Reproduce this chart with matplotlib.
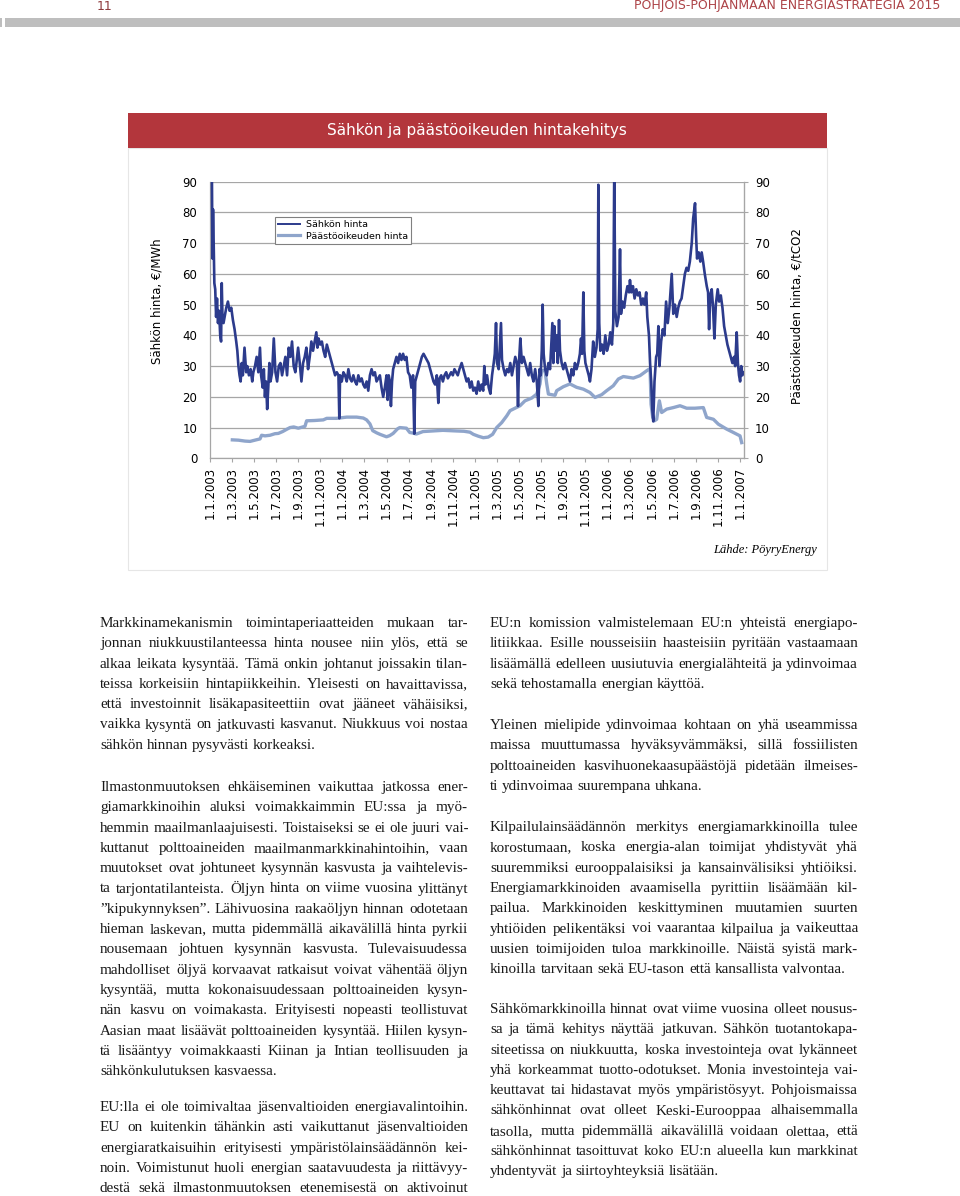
import matplotlib
matplotlib.use("Agg")
import matplotlib.pyplot as plt
from matplotlib.lines import Line2D
from matplotlib.patches import Rectangle

W, H = 960, 1196

# --- chart data (months counted from 1.1.2003) ---
el_month = [
    0.2, 0.25, 0.3, 0.36, 0.42, 0.5, 0.58, 0.66, 0.75, 0.85, 0.95, 1.03, 1.09, 1.15, 1.25,
    1.35, 1.5, 1.65, 1.8, 1.95, 2.1, 2.25, 2.4, 2.5, 2.6, 2.7, 2.8, 2.9, 3.0, 3.15,
    3.3, 3.4, 3.55, 3.7, 3.85, 3.95, 4.1, 4.25, 4.4, 4.55, 4.65, 4.8, 4.9, 5.0, 5.1,
    5.2, 5.3, 5.4, 5.5, 5.65, 5.8, 5.95, 6.1, 6.25, 6.4, 6.55, 6.7, 6.85, 7.0, 7.15,
    7.3, 7.45, 7.6, 7.75, 7.85, 8.0, 8.15, 8.3, 8.45, 8.6, 8.75, 8.9, 9.05, 9.2, 9.35,
    9.5, 9.65, 9.75, 9.85, 10.0, 10.15, 10.3, 10.45, 10.6, 10.75, 10.9, 11.05, 11.2, 11.35, 11.5,
    11.65, 11.73, 11.8, 11.95, 12.1, 12.25, 12.4, 12.55, 12.7, 12.85, 13.0, 13.15, 13.3, 13.45, 13.6,
    13.75, 13.9, 14.05, 14.2, 14.35, 14.5, 14.65, 14.8, 14.95, 15.1, 15.25, 15.4, 15.55, 15.7, 15.85,
    16.0, 16.1, 16.2, 16.3, 16.4, 16.5, 16.6, 16.75, 16.9, 17.05, 17.2, 17.35, 17.5, 17.65, 17.8,
    17.95, 18.1, 18.25, 18.4, 18.51, 18.6, 18.75, 18.9, 19.05, 19.2, 19.35, 19.5, 19.65, 19.8, 19.95,
    20.1, 20.25, 20.4, 20.55, 20.69, 20.8, 20.95, 21.1, 21.25, 21.4, 21.55, 21.7, 21.85, 22.0, 22.15,
    22.3, 22.45, 22.6, 22.8, 22.95, 23.1, 23.25, 23.4, 23.55, 23.7, 23.85, 24.0, 24.15, 24.3, 24.45,
    24.6, 24.75, 24.85, 24.95, 25.1, 25.25, 25.4, 25.55, 25.7, 25.8, 25.91, 26.0, 26.15, 26.36, 26.45,
    26.6, 26.75, 26.9, 27.05, 27.2, 27.35, 27.5, 27.65, 27.8, 27.9, 28.0, 28.11, 28.25, 28.4, 28.55,
    28.7, 28.85, 29.0, 29.15, 29.3, 29.45, 29.6, 29.74, 29.85, 29.95, 30.05, 30.13, 30.22, 30.35, 30.5,
    30.65, 30.8, 30.9, 31.01, 31.1, 31.19, 31.3, 31.4, 31.5, 31.61, 31.7, 31.85, 32.0, 32.15, 32.3,
    32.45, 32.6, 32.75, 32.9, 33.05, 33.2, 33.35, 33.5, 33.6, 33.7, 33.81, 33.9, 34.0, 34.15, 34.3,
    34.41, 34.55, 34.7, 34.85, 35.0, 35.11, 35.17, 35.25, 35.35, 35.5, 35.65, 35.8, 35.95, 36.1, 36.25,
    36.4, 36.52, 36.61, 36.7, 36.85, 37.0, 37.13, 37.22, 37.35, 37.5, 37.65, 37.8, 37.95, 38.03, 38.15,
    38.3, 38.45, 38.6, 38.75, 38.9, 39.05, 39.2, 39.35, 39.5, 39.6, 39.75, 39.85, 39.95, 40.05, 40.14,
    40.25, 40.4, 40.5, 40.6, 40.7, 40.85, 41.0, 41.15, 41.3, 41.45, 41.6, 41.81, 41.95, 42.1, 42.26,
    42.4, 42.55, 42.7, 42.85, 43.0, 43.15, 43.3, 43.45, 43.62, 43.75, 43.92, 44.02, 44.1, 44.25, 44.4,
    44.52, 44.65, 44.8, 44.98, 45.1, 45.19, 45.3, 45.43, 45.55, 45.67, 45.8, 45.97, 46.1, 46.25, 46.4,
    46.55, 46.7, 46.85, 47.0, 47.15, 47.3, 47.45, 47.55, 47.69, 47.8, 47.9, 48.0, 48.1, 48.2, 48.3,
]
el_price = [
    92, 65, 81, 70, 57, 55, 46, 52, 44, 48, 40, 38, 57, 47, 44,
    46, 49, 51, 48, 49, 45, 42, 38, 35, 30, 27, 25, 31, 27, 36,
    28, 30, 27, 29, 25, 28, 30, 33, 28, 36, 27, 23, 29, 20, 25,
    16, 23, 31, 25, 28, 39, 28, 25, 30, 31, 27, 30, 33, 27, 36,
    33, 38, 30, 28, 31, 36, 31, 25, 31, 33, 36, 29, 33, 38, 35,
    38, 41, 36, 39, 37, 38, 35, 33, 37, 35, 33, 31, 29, 27, 28,
    27, 13, 27, 25, 28, 27, 25, 29, 26, 25, 27, 25, 24, 27, 25,
    26, 24, 23, 25, 22, 27, 29, 27, 28, 25, 26, 27, 23, 20, 23,
    27, 19, 27, 25, 17, 25, 29, 31, 33, 31, 34, 32, 34, 32, 33,
    28, 27, 23, 27, 8, 25, 27, 29, 31, 33, 34, 33, 32, 31, 29,
    27, 25, 24, 27, 18, 26, 27, 25, 27, 28, 26, 27, 28, 27, 29,
    28, 27, 29, 31, 29, 27, 25, 26, 23, 25, 22, 23, 21, 25, 22,
    24, 22, 30, 24, 27, 23, 21, 27, 31, 34, 44, 31, 29, 44, 32,
    29, 27, 29, 28, 31, 27, 30, 33, 31, 17, 32, 39, 31, 33, 31,
    29, 27, 31, 27, 25, 29, 25, 17, 29, 27, 35, 50, 34, 29, 27,
    31, 29, 36, 44, 31, 43, 35, 40, 31, 45, 35, 31, 29, 31, 29,
    27, 25, 29, 27, 31, 29, 31, 34, 39, 34, 54, 35, 31, 29, 27,
    25, 29, 38, 33, 36, 42, 89, 44, 35, 37, 34, 40, 35, 37, 41,
    37, 44, 95, 48, 43, 46, 68, 47, 51, 49, 53, 56, 54, 58, 54,
    56, 52, 55, 53, 54, 50, 52, 50, 54, 46, 40, 31, 25, 16, 12,
    25, 33, 34, 43, 30, 38, 42, 40, 51, 44, 49, 60, 47, 50, 46,
    49, 51, 52, 56, 60, 62, 61, 64, 70, 78, 83, 72, 65, 67, 64,
    67, 64, 60, 56, 54, 42, 53, 55, 49, 39, 50, 55, 51, 53, 49,
    43, 40, 37, 35, 33, 31, 33, 30, 41, 31, 27, 25, 30, 27, 28,
]

co2_month = [
    2.05, 2.6, 3.2, 3.65, 4.2, 4.55, 4.7, 5.0, 5.46, 5.9, 6.21, 6.6, 7.0, 7.27, 7.6,
    8.02, 8.62, 8.77, 9.5, 10.28, 10.59, 11.49, 12.4, 13.3, 13.9, 14.2, 14.5, 14.75, 15.1, 15.41,
    16.0, 16.3, 16.6, 17.0, 17.2, 17.8, 18.1, 18.4, 18.7, 19.3, 20.2, 21.1, 22.3, 23.0, 23.55,
    23.86, 24.3, 24.76, 25.2, 25.6, 25.97, 26.42, 26.88, 27.18, 27.63, 28.08, 28.53, 29.14, 29.59, 29.89,
    30.04, 30.34, 30.5, 30.65, 31.25, 31.4, 32.0, 32.6, 33.2, 33.81, 34.41, 34.87, 35.47, 35.92, 36.52,
    36.98, 37.43, 38.34, 38.94, 39.55, 39.85, 39.94, 40.09, 40.25, 40.45, 40.69, 40.9, 41.35, 41.95, 42.56,
    43.16, 43.91, 44.67, 44.97, 45.58, 46.03, 46.78, 47.39, 47.99, 48.14,
]
co2_price = [
    6.0, 5.9, 5.6, 5.5, 6.0, 6.3, 7.5, 7.3, 7.5, 8.0, 8.1, 8.7, 9.5, 10.0, 10.2,
    9.8, 10.4, 12.2, 12.3, 12.5, 13.0, 13.0, 13.4, 13.4, 13.1, 12.5, 11.2, 9.0, 8.3, 7.8,
    7.0, 7.4, 8.1, 9.6, 10.0, 9.8, 8.4, 8.2, 7.9, 8.7, 8.9, 9.1, 8.9, 8.8, 8.5,
    7.8, 7.2, 6.7, 6.9, 7.8, 10.0, 11.6, 13.8, 15.5, 16.3, 17.1, 18.7, 19.6, 20.9, 24.2,
    28.5, 28.6, 24.2, 20.9, 20.5, 22.0, 23.3, 24.2, 23.1, 22.5, 21.4, 19.8, 20.7, 22.0, 23.6,
    25.8, 26.6, 26.1, 26.9, 28.5, 29.2, 17.6, 13.3, 12.2, 12.7, 18.7, 14.9, 16.0, 16.5, 17.1,
    16.3, 16.3, 16.5, 13.3, 12.7, 11.1, 9.5, 8.4, 7.3, 5.1,
]

tick_months = list(range(0, 49, 2))
tick_labels = [
    "1.1.2003", "1.3.2003", "1.5.2003", "1.7.2003", "1.9.2003", "1.11.2003",
    "1.1.2004", "1.3.2004", "1.5.2004", "1.7.2004", "1.9.2004", "1.11.2004",
    "1.1.2005", "1.3.2005", "1.5.2005", "1.7.2005", "1.9.2005", "1.11.2005",
    "1.1.2006", "1.3.2006", "1.5.2006", "1.7.2006", "1.9.2006", "1.11.2006",
    "1.1.2007",
]
y_ticks = [0, 10, 20, 30, 40, 50, 60, 70, 80, 90]

# --- body text (page columns) ---
left_paras = [
    (622, [
        "Markkinamekanismin toimintaperiaatteiden mukaan tar-",
        "jonnan niukkuustilanteessa hinta nousee niin ylös, että se",
        "alkaa leikata kysyntää. Tämä onkin johtanut joissakin tilan-",
        "teissa korkeisiin hintapiikkeihin. Yleisesti on havaittavissa,",
        "että investoinnit lisäkapasiteettiin ovat jääneet vähäisiksi,",
        "vaikka kysyntä on jatkuvasti kasvanut. Niukkuus voi nostaa",
        "sähkön hinnan pysyvästi korkeaksi.",
    ]),
    (786, [
        "Ilmastonmuutoksen ehkäiseminen vaikuttaa jatkossa ener-",
        "giamarkkinoihin aluksi voimakkaimmin EU:ssa ja myö-",
        "hemmin maailmanlaajuisesti. Toistaiseksi se ei ole juuri vai-",
        "kuttanut polttoaineiden maailmanmarkkinahintoihin, vaan",
        "muutokset ovat johtuneet kysynnän kasvusta ja vaihtelevis-",
        "ta tarjontatilanteista. Öljyn hinta on viime vuosina ylittänyt",
        "”kipukynnyksen”. Lähivuosina raakaöljyn hinnan odotetaan",
        "hieman laskevan, mutta pidemmällä aikavälillä hinta pyrkii",
        "nousemaan johtuen kysynnän kasvusta. Tulevaisuudessa",
        "mahdolliset öljyä korvaavat ratkaisut voivat vähentää öljyn",
        "kysyntää, mutta kokonaisuudessaan polttoaineiden kysyn-",
        "nän kasvu on voimakasta. Erityisesti nopeasti teollistuvat",
        "Aasian maat lisäävät polttoaineiden kysyntää. Hiilen kysyn-",
        "tä lisääntyy voimakkaasti Kiinan ja Intian teollisuuden ja",
        "sähkönkulutuksen kasvaessa.",
    ]),
    (1106, [
        "EU:lla ei ole toimivaltaa jäsenvaltioiden energiavalintoihin.",
        "EU on kuitenkin tähänkin asti vaikuttanut jäsenvaltioiden",
        "energiaratkaisuihin erityisesti ympäristölainsäädännön kei-",
        "noin. Voimistunut huoli energian saatavuudesta ja riittävyy-",
        "destä sekä ilmastonmuutoksen etenemisestä on aktivoinut",
        "",
    ]),
]
right_paras = [
    (622, [
        "EU:n komission valmistelemaan EU:n yhteistä energiapo-",
        "litiikkaa. Esille nousseisiin haasteisiin pyritään vastaamaan",
        "lisäämällä edelleen uusiutuvia energialähteitä ja ydinvoimaa",
        "sekä tehostamalla energian käyttöä.",
    ]),
    (724, [
        "Yleinen mielipide ydinvoimaa kohtaan on yhä useammissa",
        "maissa muuttumassa hyväksyvämmäksi, sillä fossiilisten",
        "polttoaineiden kasvihuonekaasupäästöjä pidetään ilmeises-",
        "ti ydinvoimaa suurempana uhkana.",
    ]),
    (826, [
        "Kilpailulainsäädännön merkitys energiamarkkinoilla tulee",
        "korostumaan, koska energia-alan toimijat yhdistyvät yhä",
        "suuremmiksi eurooppalaisiksi ja kansainvälisiksi yhtiöiksi.",
        "Energiamarkkinoiden avaamisella pyrittiin lisäämään kil-",
        "pailua. Markkinoiden keskittyminen muutamien suurten",
        "yhtiöiden pelikentäksi voi vaarantaa kilpailua ja vaikeuttaa",
        "uusien toimijoiden tuloa markkinoille. Näistä syistä mark-",
        "kinoilla tarvitaan sekä EU-tason että kansallista valvontaa.",
    ]),
    (1008, [
        "Sähkömarkkinoilla hinnat ovat viime vuosina olleet nousus-",
        "sa ja tämä kehitys näyttää jatkuvan. Sähkön tuotantokapa-",
        "siteetissa on niukkuutta, koska investointeja ovat lykänneet",
        "yhä korkeammat tuotto-odotukset. Monia investointeja vai-",
        "keuttavat tai hidastavat myös ympäristösyyt. Pohjoismaissa",
        "sähkönhinnat ovat olleet Keski-Eurooppaa alhaisemmalla",
        "tasolla, mutta pidemmällä aikavälillä voidaan olettaa, että",
        "sähkönhinnat tasoittuvat koko EU:n alueella kun markkinat",
        "yhdentyvät ja siirtoyhteyksiä lisätään.",
    ]),
]

EL_COLOR = "#2C3B8C"
CO2_COLOR = "#8FA5CB"
GRID = "#A6A6A6"
RED = "#B3363C"
SERIF = ["Liberation Serif", "DejaVu Serif"]
NARROW = ["Liberation Sans Narrow", "DejaVu Sans"]


def fx(px):
    return px / W


def fy(py):
    return 1 - py / H


fig = plt.figure(figsize=(W / 100, H / 100), dpi=100)
renderer = fig.canvas.get_renderer()

# page header
fig.text(fx(105), fy(6), "11", ha="center", va="center", fontsize=9,
         color="#8E3A3C", family=NARROW)
fig.text(fx(940), fy(6), "POHJOIS-POHJANMAAN ENERGIASTRATEGIA 2015", ha="right",
         va="center", fontsize=9, color="#AD4448", family=NARROW)
fig.patches.append(Rectangle((fx(5), fy(27)), fx(960) - fx(5), 9 / H,
                             transform=fig.transFigure, color="#BEBEBE", lw=0))
fig.patches.append(Rectangle((0, fy(27)), fx(2), 9 / H,
                             transform=fig.transFigure, color="#BEBEBE", lw=0))

# chart banner and frame
fig.patches.append(Rectangle((fx(128), fy(570)), 699 / W, (570 - 148) / H,
                             transform=fig.transFigure, fill=False,
                             ec="#E6E6E6", lw=0.8))
fig.patches.append(Rectangle((fx(128), fy(148)), 699 / W, 35 / H,
                             transform=fig.transFigure, color=RED, lw=0))
fig.text(fx(477), fy(130), "Sähkön ja päästöoikeuden hintakehitys", ha="center",
         va="center", fontsize=11, color="white")

# chart
ax = fig.add_axes([fx(209.7), fy(458.3), (744 - 209.7) / W, (458.3 - 181.7) / H])
ax.plot(co2_month, co2_price, color=CO2_COLOR, lw=2.4, solid_joinstyle="round",
        zorder=3)
ax.plot(el_month, el_price, color=EL_COLOR, lw=1.9, solid_joinstyle="round",
        zorder=4)
ax.set_xlim(0, 48.35)
ax.set_ylim(0, 90)
ax.set_yticks(y_ticks)
ax.set_xticks(tick_months)
ax.set_xticklabels(tick_labels, rotation=90, fontsize=8.5)
ax.tick_params(axis="x", length=3, width=0.8, color=GRID, pad=3)
ax.tick_params(axis="y", length=0, pad=9, labelsize=8.5)
ax.grid(axis="y", color=GRID, lw=0.9)
ax.set_axisbelow(True)
ax.spines["top"].set_visible(False)
for side in ["left", "bottom", "right"]:
    ax.spines[side].set_color(GRID)
    ax.spines[side].set_linewidth(0.9)

ax2 = ax.twinx()
ax2.set_ylim(0, 90)
ax2.set_yticks(y_ticks)
ax2.tick_params(axis="y", length=3, width=0.8, color=GRID, pad=5, labelsize=8.5)
for side in ["top", "left", "bottom"]:
    ax2.spines[side].set_visible(False)
ax2.spines["right"].set_color(GRID)

handles = [Line2D([], [], color=EL_COLOR, lw=1.4),
           Line2D([], [], color=CO2_COLOR, lw=2.3)]
leg = ax.legend(handles, ["Sähkön hinta", "Päästöoikeuden hinta"], loc="upper left",
                bbox_to_anchor=(fx(275), fy(217)), bbox_transform=fig.transFigure,
                fontsize=6.8, fancybox=False, framealpha=1, edgecolor="#808080",
                borderpad=0.35, labelspacing=0.25, handlelength=2.3,
                handletextpad=0.6, borderaxespad=0)
leg.get_frame().set_linewidth(0.8)

fig.text(fx(157), fy(301), "Sähkön hinta, €/MWh", rotation=90, ha="center",
         va="center", fontsize=8.5)
fig.text(fx(797), fy(316), "Päästöoikeuden hinta, €/tCO2", rotation=90, ha="center",
         va="center", fontsize=8.5)
fig.text(fx(817), fy(550), "Lähde: PöyryEnergy", ha="right", va="center",
         fontsize=9, style="italic", family=SERIF)

# justified body text
FS = 10.9
LINE_STEP = 20.3


def put_line(x0, width, y, line, justify):
    words = line.split(" ")
    objs = [fig.text(0, 0, w, fontsize=FS, family=SERIF, va="baseline",
                     color="#1A1A1A") for w in words]
    widths = [o.get_window_extent(renderer).width for o in objs]
    space = FS * 1.389 * 0.25
    if justify and len(words) > 1:
        space = max((width - sum(widths)) / (len(words) - 1), 1.5)
    x = x0
    for o, wd in zip(objs, widths):
        o.set_position((fx(x), fy(y)))
        x += wd + space


for x0, paras in [(100, left_paras), (490, right_paras)]:
    for y0, lines in paras:
        real = [ln for ln in lines if ln]
        cont = len(real) < len(lines)
        for i, ln in enumerate(real):
            last = i == len(real) - 1 and not cont
            put_line(x0, 368, y0 + i * LINE_STEP + 5, ln, not last)

fig.savefig("out.png", dpi=100)
